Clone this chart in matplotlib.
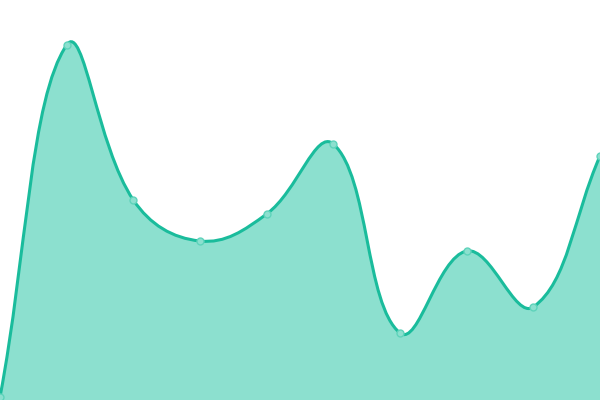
import numpy as np
import matplotlib
matplotlib.use("Agg")
import matplotlib.pyplot as plt
from matplotlib.path import Path
from matplotlib.patches import PathPatch

# values (y axis 0..400)
labels = list(range(10))
values = [3, 355, 200, 159, 186, 256, 67, 149, 93, 244]

LINE = "#1abc9c"
FILL = "#8ce0cf"
TENSION = 0.4

fig = plt.figure(figsize=(6, 4), dpi=100)
ax = fig.add_axes([0, 0, 1, 1])
ax.set_xlim(0, len(labels) - 1)
ax.set_ylim(0, 400)
ax.axis("off")


def spline_path(xs, ys):
    # Chart.js style bezier, computed in pixel space
    pts = ax.transData.transform(np.column_stack([xs, ys]))
    n = len(pts)
    cps = []
    for i in range(n):
        prev = pts[max(i - 1, 0)]
        cur = pts[i]
        nxt = pts[min(i + 1, n - 1)]
        d01 = np.hypot(*(cur - prev))
        d12 = np.hypot(*(nxt - cur))
        tot = d01 + d12
        s01 = d01 / tot if tot else 0
        s12 = d12 / tot if tot else 0
        c_prev = cur - TENSION * s01 * (nxt - prev)
        c_next = cur + TENSION * s12 * (nxt - prev)
        cps.append((c_prev, c_next))
    verts = [pts[0]]
    codes = [Path.MOVETO]
    for i in range(1, n):
        verts += [cps[i - 1][1], cps[i][0], pts[i]]
        codes += [Path.CURVE4] * 3
    inv = ax.transData.inverted()
    return inv.transform(np.array(verts)), codes


verts, codes = spline_path(labels, values)

# area under the curve
fill_verts = np.vstack([verts, [[labels[-1], 0], [labels[0], 0], verts[0]]])
fill_codes = codes + [Path.LINETO, Path.LINETO, Path.CLOSEPOLY]
ax.add_patch(PathPatch(Path(fill_verts, fill_codes), facecolor=FILL,
                       edgecolor="none", zorder=1))
ax.add_patch(PathPatch(Path(verts, codes), facecolor="none",
                       edgecolor=LINE, linewidth=2.2, zorder=2))

ax.plot(labels, values, linestyle="none", marker="o", markersize=5,
        markerfacecolor=FILL, markeredgecolor="#5fd3bb", markeredgewidth=1,
        zorder=3, clip_on=False)

plt.savefig("out.png", dpi=100)
